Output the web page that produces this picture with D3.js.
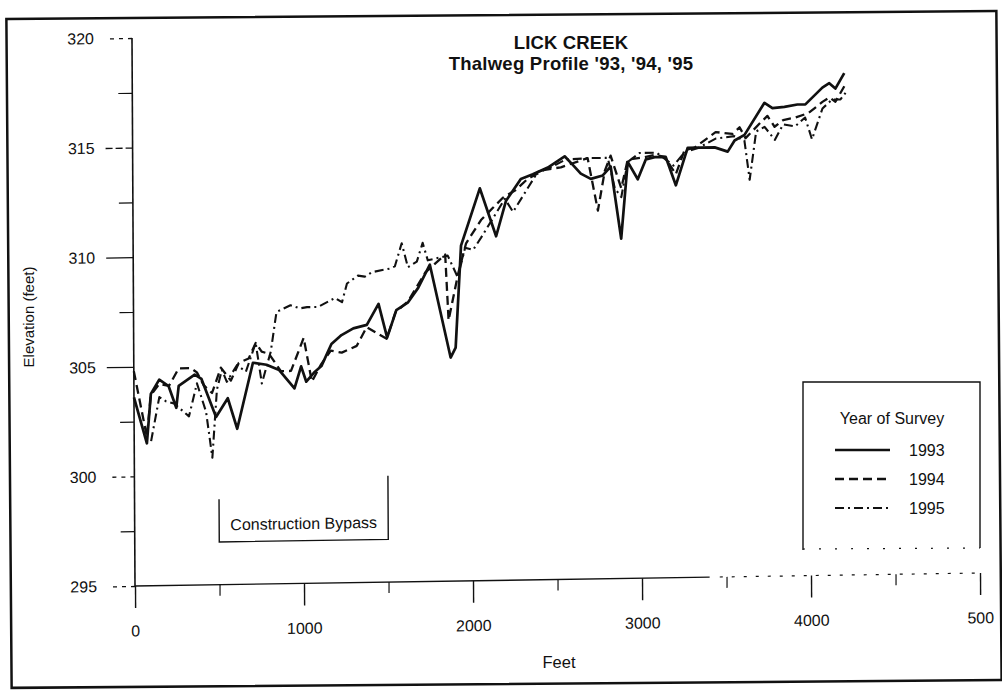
<!DOCTYPE html>
<html><head><meta charset="utf-8">
<script src="https://cdn.jsdelivr.net/npm/d3@7"></script>
<style>
html,body{margin:0;padding:0;background:#fff;}
svg{display:block;}
text{font-family:"Liberation Sans",Arial,Helvetica,sans-serif;fill:#111;}
</style></head><body>
<script>
// Thalweg survey points: [distance along channel (ft), bed elevation (ft)]
const s1993 = [[0,303.6],[75,301.5],[100,303.75],[150,304.4],[205,304.1],[250,303.1],[265,304.1],[360,304.6],[400,304.4],[485,302.65],[555,303.5],[610,302.1],[705,305.1],[785,305.0],[860,304.75],[950,303.9],[990,304.9],[1020,304.2],[1065,304.6],[1110,304.9],[1170,305.9],[1230,306.3],[1300,306.6],[1380,306.75],[1450,307.7],[1500,306.15],[1555,307.4],[1625,307.75],[1685,308.4],[1755,309.45],[1875,305.2],[1905,305.65],[1940,310.3],[2053,312.9],[2148,310.7],[2207,312.3],[2296,313.3],[2367,313.5],[2456,313.8],[2556,314.3],[2604,313.9],[2651,313.5],[2710,313.25],[2781,313.4],[2828,313.8],[2888,310.5],[2929,314.0],[2988,313.2],[3036,314.1],[3089,314.2],[3154,314.2],[3213,312.9],[3284,314.6],[3361,314.6],[3444,314.6],[3521,314.4],[3562,314.9],[3621,315.15],[3740,316.6],[3787,316.35],[3858,316.4],[3935,316.5],[3982,316.5],[4083,317.25],[4124,317.45],[4160,317.2],[4213,317.9]];
const s1994 = [[0,304.8],[75,301.8],[100,303.7],[150,304.2],[207,304.1],[266,304.9],[337,304.9],[373,304.7],[414,304.1],[462,303.75],[515,304.9],[574,304.3],[621,305.1],[680,305.3],[722,306.0],[757,305.6],[800,305.5],[870,304.7],[930,304.7],[1006,306.2],[1053,304.2],[1106,304.95],[1166,305.6],[1231,305.5],[1320,305.8],[1379,306.65],[1497,306.1],[1550,307.3],[1625,307.8],[1728,309.1],[1846,309.9],[1864,306.9],[1923,309.05],[1970,310.4],[2059,311.45],[2130,312.0],[2189,312.45],[2266,312.8],[2337,313.3],[2438,313.7],[2533,313.8],[2692,314.2],[2751,311.8],[2793,313.6],[2828,314.3],[2890,312.8],[2929,314.1],[3030,314.2],[3089,314.3],[3148,314.2],[3213,313.4],[3266,314.5],[3325,314.6],[3450,315.3],[3550,315.2],[3592,315.5],[3627,315.0],[3716,315.7],[3757,316.0],[3799,315.5],[3850,315.8],[3920,315.9],[4000,316.1],[4083,316.6],[4124,316.8],[4160,316.6],[4213,317.3]];
const s1995 = [[100,301.6],[150,303.6],[190,303.4],[237,303.3],[325,302.7],[373,304.2],[426,302.9],[462,300.8],[491,303.9],[521,304.8],[550,304.25],[610,305.0],[663,304.7],[722,306.0],[757,304.15],[811,305.6],[846,307.4],[929,307.7],[985,307.55],[1027,307.6],[1092,307.6],[1193,308.0],[1234,307.8],[1264,308.65],[1329,309.0],[1370,308.95],[1412,309.15],[1518,309.3],[1548,309.4],[1589,310.45],[1625,309.35],[1678,309.6],[1713,310.45],[1743,309.65],[1861,309.85],[1920,308.85],[1964,310.2],[2012,310.1],[2059,310.65],[2201,312.4],[2249,311.8],[2396,313.6],[2473,313.8],[2562,314.15],[2710,314.2],[2811,314.2],[2852,312.8],[2890,312.4],[2929,314.0],[3000,314.4],[3100,314.4],[3200,313.8],[3266,314.4],[3350,314.6],[3450,315.0],[3560,315.1],[3620,314.9],[3650,313.1],[3690,315.3],[3740,315.5],[3800,314.9],[3850,315.6],[3920,315.5],[3980,315.9],[4020,314.9],[4083,316.3],[4140,316.7],[4190,316.7],[4220,317.0]];

const years = ["1993", "1994", "1995"];
const xTickValues = [0, 1000, 2000, 3000, 4000, 5000];
const xTickLabels = ["0", "1000", "2000", "3000", "4000", "500"];
const xMinorTicks = [500, 1500, 2500, 3500, 4500];
const yTickValues = [295, 300, 305, 310, 315, 320];
const yMinorTicks = [297.5, 302.5, 307.5, 312.5, 317.5];
const bypassReach = [500, 1500];

const W = 1002, H = 690;
const ink = "#111";
const fontFam = '"Liberation Sans",Arial,Helvetica,sans-serif';
const svg = d3.select("body").append("svg").attr("width", W).attr("height", H);
svg.append("rect").attr("width", W).attr("height", H).attr("fill", "#fff");

// page frame
svg.append("rect")
  .attr("x", 9).attr("y", 15).attr("width", 990).attr("height", 669)
  .attr("fill", "none").attr("stroke", ink).attr("stroke-width", 2.5)
  .attr("transform", "rotate(-0.45,503,350)");

const x = d3.scaleLinear().domain([0, 5000]).range([135, 980]);
const y = d3.scaleLinear().domain([295, 320]).range([586, 38]);

// plotting area (the printed sheet sits slightly askew)
const plot = svg.append("g").attr("transform", "matrix(1,-0.0154,0.0055,1,-3.22,2.08)");

// y axis
const yAx = plot.append("g").attr("transform", `translate(${x(0)},0)`)
  .call(d3.axisLeft(y).tickValues(yTickValues).tickSize(27).tickPadding(11).tickFormat(d3.format("d")))
  .attr("font-size", 16).attr("font-family", fontFam).attr("color", ink);
yAx.select(".domain").remove();
yAx.selectAll(".tick line").attr("stroke-width", 1.3)
  .attr("stroke-dasharray", d => (d === 320 || d === 300 || d === 295) ? "4,5" : (d === 315 ? "7,3" : null));
const yMin = plot.append("g").attr("transform", `translate(${x(0)},0)`)
  .call(d3.axisLeft(y).tickValues(yMinorTicks).tickSize(14).tickFormat(""))
  .attr("color", ink);
yMin.select(".domain").remove();
yMin.selectAll(".tick line").attr("stroke-width", 1.2);

// x axis
const xAx = plot.append("g").attr("transform", `translate(0,${y(295)})`)
  .call(d3.axisBottom(x).tickValues(xTickValues).tickSize(22).tickPadding(17)
    .tickFormat((d, i) => xTickLabels[i]))
  .attr("font-size", 16).attr("font-family", fontFam).attr("color", ink);
xAx.select(".domain").remove();
xAx.selectAll(".tick line").attr("stroke-width", 1.4);
const xMin = plot.append("g").attr("transform", `translate(0,${y(295)})`)
  .call(d3.axisBottom(x).tickValues(xMinorTicks).tickSize(11).tickFormat(""))
  .attr("color", ink);
xMin.select(".domain").remove();
xMin.selectAll(".tick line").attr("stroke-width", 1.2);

// axis lines
plot.append("line").attr("x1", x(0)).attr("x2", x(0)).attr("y1", y(320)).attr("y2", y(295))
  .attr("stroke", ink).attr("stroke-width", 1.6);
plot.append("line").attr("x1", x(0)).attr("x2", x(3400)).attr("y1", y(295)).attr("y2", y(295))
  .attr("stroke", ink).attr("stroke-width", 1.4);
plot.append("line").attr("x1", x(3460)).attr("x2", x(5000)).attr("y1", y(295)).attr("y2", y(295))
  .attr("stroke", ink).attr("stroke-width", 1.2).attr("stroke-dasharray", "3,9");

// construction bypass bracket
plot.append("path")
  .attr("d", `M${x(bypassReach[0])},${y(298.9)}V${y(296.95)}H${x(bypassReach[1])}V${y(299.85)}`)
  .attr("fill", "none").attr("stroke", ink).attr("stroke-width", 1.4);
plot.append("text").attr("x", x(1000)).attr("y", y(297.48))
  .attr("text-anchor", "middle").attr("font-size", 16).text("Construction Bypass");

// profiles
const line = d3.line().x(d => x(d[0])).y(d => y(d[1]));
const styles = [
  { data: s1993, dash: null, w: 2.7 },
  { data: s1994, dash: "9,5", w: 2.3 },
  { data: s1995, dash: "9,4,2,4", w: 2.1 }
];
styles.forEach(s => {
  plot.append("path").datum(s.data).attr("d", line)
    .attr("fill", "none").attr("stroke", ink).attr("stroke-width", s.w)
    .attr("stroke-linejoin", "round").attr("stroke-dasharray", s.dash);
});

// title block
svg.append("text").attr("x", 571).attr("y", 48.5).attr("text-anchor", "middle")
  .attr("font-size", 18.5).attr("font-weight", "bold").attr("letter-spacing", 0.15).text("LICK CREEK");
svg.append("text").attr("x", 571).attr("y", 70).attr("text-anchor", "middle")
  .attr("font-size", 18.5).attr("font-weight", "bold").attr("letter-spacing", 0.25).text("Thalweg Profile '93, '94, '95");

svg.append("text").attr("transform", "translate(34,317) rotate(-90)").attr("text-anchor", "middle")
  .attr("font-size", 15).text("Elevation (feet)");
svg.append("text").attr("x", 559).attr("y", 668).attr("text-anchor", "middle")
  .attr("font-size", 16.5).text("Feet");

// legend
const lg = svg.append("g");
lg.append("path").attr("d", "M803,550V382H980V548").attr("fill", "none").attr("stroke", ink).attr("stroke-width", 1.4);
lg.append("line").attr("x1", 803).attr("x2", 980).attr("y1", 549).attr("y2", 548)
  .attr("stroke", ink).attr("stroke-width", 1.2).attr("stroke-dasharray", "2,14");
lg.append("text").attr("x", 892).attr("y", 424).attr("text-anchor", "middle").attr("font-size", 16).text("Year of Survey");
years.forEach((yr, i) => {
  const ly = 450 + i * 29;
  lg.append("line").attr("x1", 835).attr("x2", 890).attr("y1", ly).attr("y2", ly)
    .attr("stroke", ink).attr("stroke-width", styles[i].w).attr("stroke-dasharray", styles[i].dash);
  lg.append("text").attr("x", 909).attr("y", ly + 6).attr("font-size", 16).text(yr);
});
</script>
</body></html>
